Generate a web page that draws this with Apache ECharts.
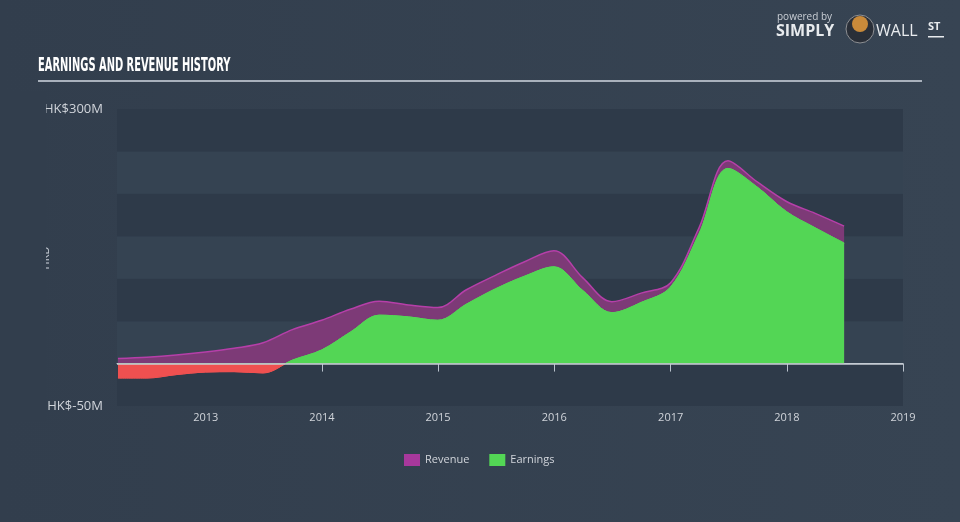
<!DOCTYPE html>
<html>
<head>
<meta charset="utf-8">
<script src="https://cdn.jsdelivr.net/npm/echarts@6/dist/echarts.min.js"></script>
<style>
html,body{margin:0;padding:0;background:#344050;}
#chart{width:960px;height:522px;}
</style>
</head>
<body>
<div id="chart"></div>
<script>
var dates = ['2012-03-31','2012-06-30','2012-09-30','2012-12-31','2013-03-31','2013-06-30','2013-09-30','2013-12-31',
  '2014-03-31','2014-06-30','2014-09-30','2014-12-31','2015-03-31','2015-06-30','2015-09-30','2015-12-31',
  '2016-03-31','2016-06-30','2016-09-30','2016-12-31','2017-03-31','2017-06-30','2017-09-30','2017-12-31',
  '2018-03-31','2018-06-30'];
var revenue = [6, 7.5, 10, 13.5, 18, 24.5, 40, 51, 64, 73.5, 69, 66, 87, 104, 120, 133, 101, 73, 83, 95, 160, 239, 214, 191, 177, 162];
var earnings = [-17, -17, -13, -10, -9.5, -11, 4, 16, 37, 57, 55, 51, 70, 88, 103, 114, 86, 60, 72, 90, 153, 230, 208, 179, 160, 142];
var yTicks = [-50, 300];
var xMin = '2012-03-28', xMax = '2019-01-01';

function pairs(vals){ return dates.map(function(d,i){ return [d, vals[i]]; }); }

var chart = echarts.init(document.getElementById('chart'), null, {renderer:'canvas'});
var font = 'Open Sans';
var GREEN = '#53d655', RED = '#ef5050';
chart.setOption({
  backgroundColor: {type:'linear', x:0, y:0, x2:1, y2:0, colorStops:[{offset:0,color:'#323e4d'},{offset:1,color:'#374453'}]},
  animation: false,
  textStyle: {fontFamily: font},
  grid: {left:117, right:57, top:109, bottom:116},
  legend: {
    left: 399, top: 449, itemWidth: 16, itemHeight: 12, itemGap: 20,
    icon: 'rect',
    textStyle: {color:'#d0d4da', fontSize:11, fontFamily: font},
    data: [
      {name:'Revenue', itemStyle:{color:'#a8389c'}},
      {name:'Earnings', itemStyle:{color:GREEN}}
    ]
  },
  xAxis: {
    type: 'time', min: xMin, max: xMax,
    axisLine: {show:true, lineStyle:{color:'#b9c2cd', width:1}},
    axisTick: {show:true, length:8, lineStyle:{color:'#b9c2cd'}},
    axisLabel: {color:'#d0d4da', fontSize:11, fontFamily: font, formatter:'{yyyy}', showMinLabel:false, showMaxLabel:true, margin:6},
    splitLine: {show:false},
    minInterval: 365*24*3600*1000
  },
  yAxis: {
    type: 'value', min: -50, max: 300, interval: 50,
    axisLine: {show:false}, axisTick: {show:false},
    axisLabel: {color:'#d0d4da', fontSize:13, fontFamily: font, margin: 14,
      formatter: function(v){ return yTicks.indexOf(v) >= 0 ? 'HK$' + v + 'M' : ''; }},
    splitLine: {show:false},
    splitArea: {show:true, areaStyle:{color:['#2e3a49','#354352']}}
  },
  series: [
    {
      name: 'Revenue', type: 'line', data: pairs(revenue), smooth: 0.35, symbol: 'none',
      lineStyle: {color:'#b63fa9', width:1.5},
      itemStyle: {color:'#a8389c'},
      areaStyle: {color:'#7d3a77', opacity:1},
      z: 2,
      markLine: {
        silent: true, symbol: 'none', label: {show:false}, z: 10,
        lineStyle: {color:'#c9ced4', width:1.5, type:'solid'},
        data: [{yAxis: 0}]
      }
    },
    {
      name: 'Earnings', type: 'line', data: pairs(earnings), smooth: 0.35, symbol: 'none',
      itemStyle: {color: GREEN},
      lineStyle: {width:1, color: GREEN},
      areaStyle: {opacity:1, color: GREEN},
      z: 3
    }
  ],
  graphic: [
    {type:'text', x:46, y:258, rotation: Math.PI/2, z:99, style:{text:'HKD', fill:'#c8ced6', font:'11px "Open Sans"', align:'center', verticalAlign:'middle'}},
    {type:'rect', shape:{x:0, y:92, width:46, height:330}, style:{fill:'#323e4d'}, z:100},
    {type:'text', left:38, top:56, scaleX:0.55, style:{text:'EARNINGS AND REVENUE HISTORY', fill:'#ffffff', font:'bold 20px "DejaVu Sans Condensed"'}},
    {type:'rect', shape:{x:38, y:80, width:884, height:2}, style:{fill:'#a9b1bc'}},
    {type:'text', left:777, top:12, style:{text:'powered by', fill:'#c9ced5', font:'10px "Open Sans"'}},
    {type:'text', left:776, top:23, style:{text:'SIMPLY', fill:'#e8ebee', font:'bold 16px "Open Sans"'}},
    {type:'circle', shape:{cx:860, cy:29, r:14}, style:{fill:'#2a2f38', stroke:'#8d8f93', lineWidth:1}},
    {type:'circle', shape:{cx:860, cy:24, r:8}, style:{fill:'#c98a3a'}},
    {type:'text', left:876, top:23, style:{text:'WALL', fill:'#e8ebee', font:'16px "Open Sans"'}},
    {type:'text', left:928, top:21, style:{text:'ST', fill:'#e8ebee', font:'bold 11px "Open Sans"'}},
    {type:'rect', shape:{x:928, y:36, width:16, height:1.5}, style:{fill:'#e8ebee'}}
  ]
});
// colour the earnings area red below zero, green above, using the axis scale
var zeroY = chart.convertToPixel({yAxisIndex:0}, 0);
var grad = new echarts.graphic.LinearGradient(0, zeroY - 0.5, 0, zeroY + 0.5, [
  {offset:0, color:GREEN}, {offset:0.5, color:GREEN}, {offset:0.5, color:RED}, {offset:1, color:RED}
], true);
chart.setOption({series:[{}, {lineStyle:{color:grad}, areaStyle:{color:grad}}]});
</script>
</body>
</html>
